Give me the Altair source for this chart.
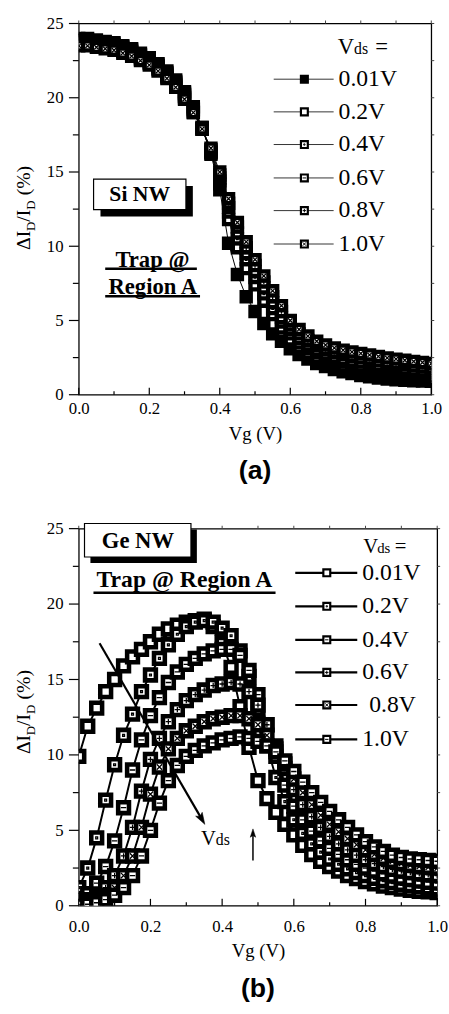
import altair as alt
import pandas as pd

# ---------------- data ----------------
VG = [0.0, 0.025, 0.05, 0.075, 0.1, 0.125, 0.15, 0.175, 0.2, 0.225,
      0.25, 0.275, 0.3, 0.325, 0.35, 0.375, 0.4, 0.425, 0.45, 0.475,
      0.5, 0.525, 0.55, 0.575, 0.6, 0.625, 0.65, 0.675, 0.7, 0.725,
      0.75, 0.775, 0.8, 0.825, 0.85, 0.875, 0.9, 0.925, 0.95, 0.975, 1.0]

SERIES = ["0.01V", "0.2V", "0.4V", "0.6V", "0.8V", "1.0V"]

# (a) Si NW
SI_001 = [24.0, 24.0, 23.9, 23.8, 23.7, 23.5, 23.3, 23.0, 22.7, 22.3,
          21.8, 21.2, 20.4, 19.4, 18.0, 16.2, 13.8, 10.2, 8.1, 6.6,
          5.6, 4.8, 4.1, 3.6, 3.1, 2.7, 2.4, 2.1, 1.9, 1.7,
          1.55, 1.42, 1.3, 1.2, 1.12, 1.05, 1.0, 0.97, 0.94, 0.92, 0.9]
SI_02 = [23.9, 23.9, 23.8, 23.7, 23.6, 23.4, 23.2, 22.9, 22.6, 22.2,
         21.7, 21.1, 20.3, 19.3, 18.0, 16.3, 14.2, 11.8, 9.9, 8.5,
         7.4, 6.3, 5.4, 4.5, 3.7, 3.2, 2.8, 2.5, 2.3, 2.1,
         1.95, 1.82, 1.7, 1.6, 1.5, 1.42, 1.35, 1.28, 1.22, 1.16, 1.1]
SI_04 = [23.8, 23.8, 23.7, 23.6, 23.5, 23.3, 23.1, 22.8, 22.5, 22.1,
         21.6, 21.0, 20.2, 19.2, 17.9, 16.3, 14.4, 12.3, 10.5, 9.1,
         7.9, 6.8, 5.8, 4.9, 4.1, 3.5, 3.1, 2.8, 2.55, 2.35,
         2.2, 2.05, 1.95, 1.85, 1.75, 1.66, 1.58, 1.5, 1.43, 1.36, 1.3]
SI_06 = [23.7, 23.7, 23.6, 23.5, 23.4, 23.2, 23.0, 22.7, 22.4, 22.0,
         21.5, 20.9, 20.1, 19.1, 17.9, 16.4, 14.6, 12.6, 10.9, 9.5,
         8.3, 7.2, 6.2, 5.2, 4.4, 3.8, 3.35, 3.0, 2.75, 2.55,
         2.4, 2.28, 2.2, 2.1, 2.0, 1.9, 1.82, 1.74, 1.66, 1.6, 1.55]
SI_08 = [23.6, 23.6, 23.5, 23.4, 23.3, 23.1, 22.9, 22.6, 22.3, 21.9,
         21.4, 20.8, 20.0, 19.0, 17.9, 16.5, 14.8, 12.9, 11.3, 9.9,
         8.7, 7.6, 6.6, 5.6, 4.7, 4.1, 3.65, 3.3, 3.05, 2.85,
         2.7, 2.58, 2.48, 2.38, 2.28, 2.18, 2.1, 2.02, 1.94, 1.87, 1.8]
SI_10 = [23.5, 23.5, 23.4, 23.3, 23.2, 23.0, 22.8, 22.5, 22.2, 21.8,
         21.3, 20.7, 19.9, 19.0, 17.9, 16.6, 15.0, 13.2, 11.6, 10.3,
         9.1, 8.0, 7.0, 6.0, 5.0, 4.4, 3.95, 3.6, 3.35, 3.15,
         3.0, 2.88, 2.78, 2.68, 2.58, 2.48, 2.4, 2.32, 2.24, 2.17, 2.1]

# (b) Ge NW
GE_001 = [9.9, 11.9, 13.1, 14.2, 15.0, 15.9, 16.5, 17.0, 17.5, 18.0,
          18.35, 18.6, 18.8, 18.9, 19.0, 18.5, 17.4, 15.8, 13.2, 10.5,
          8.3, 7.1, 6.2, 5.4, 4.7, 4.0, 3.4, 2.95, 2.6, 2.3,
          2.0, 1.8, 1.6, 1.45, 1.3, 1.2, 1.1, 1.02, 0.96, 0.92, 0.88]
GE_02 = [1.2, 2.5, 4.5, 7.0, 9.35, 11.3, 12.7, 14.2, 15.3, 16.4,
         17.3, 18.0, 18.5, 18.8, 18.9, 18.8, 18.4, 17.9, 16.9, 15.2,
         13.0, 10.6, 8.5, 6.9, 5.7, 4.8, 4.1, 3.55, 3.1, 2.75,
         2.45, 2.2, 2.0, 1.82, 1.66, 1.53, 1.42, 1.33, 1.25, 1.18, 1.12]
GE_04 = [0.4, 0.8, 1.5, 2.6, 4.3, 6.5, 9.0, 11.0, 12.6, 13.8,
         14.8, 15.5, 16.0, 16.4, 16.7, 16.9, 17.0, 17.0, 16.6, 15.6,
         14.0, 12.0, 9.9, 8.0, 6.6, 5.7, 4.95, 4.3, 3.8, 3.4,
         3.05, 2.75, 2.5, 2.3, 2.12, 1.97, 1.84, 1.73, 1.64, 1.56, 1.5]
GE_06 = [0.2, 0.4, 0.7, 1.2, 2.0, 3.3, 5.2, 7.6, 9.7, 11.1,
         12.2, 13.0, 13.6, 14.0, 14.3, 14.6, 14.7, 14.8, 14.7, 14.2,
         13.3, 12.0, 10.6, 9.1, 7.7, 6.7, 5.9, 5.2, 4.6, 4.1,
         3.7, 3.35, 3.05, 2.8, 2.6, 2.42, 2.3, 2.2, 2.12, 2.05, 2.0]
GE_08 = [0.1, 0.2, 0.4, 0.7, 1.2, 2.0, 3.3, 5.2, 7.4, 9.2,
         10.4, 11.1, 11.6, 11.9, 12.2, 12.4, 12.5, 12.6, 12.6, 12.4,
         12.0, 11.3, 10.4, 9.4, 8.4, 7.5, 6.7, 6.0, 5.4, 4.9,
         4.45, 4.05, 3.7, 3.4, 3.15, 2.95, 2.8, 2.68, 2.6, 2.55, 2.5]
GE_10 = [0.05, 0.1, 0.2, 0.4, 0.7, 1.2, 2.0, 3.3, 5.0, 6.8,
         8.3, 9.3, 9.9, 10.3, 10.6, 10.8, 11.0, 11.1, 11.2, 11.1,
         10.9, 10.6, 10.2, 9.6, 8.9, 8.2, 7.5, 6.85, 6.25, 5.7,
         5.2, 4.7, 4.25, 3.9, 3.6, 3.35, 3.2, 3.1, 3.05, 3.0, 2.95]

X_TICKS_MAJOR = [0.0, 0.2, 0.4, 0.6, 0.8, 1.0]
X_TICKS_MINOR = [0.1, 0.3, 0.5, 0.7, 0.9]
Y_TICKS_MAJOR = [0, 5, 10, 15, 20, 25]
Y_TICKS_MINOR = [2.5, 7.5, 12.5, 17.5, 22.5]

# ---------------- styles ----------------
SERIF = "Liberation Serif"
SANS = "Liberation Sans"
DOT = "M -0.35 -0.35 L 0.35 -0.35 L 0.35 0.35 L -0.35 0.35 Z"
HLINE = "M -1 0 L 1 0"
PLUS = "M -1 0 L 1 0 M 0 -1 L 0 1"
XMARK = "M -1 -1 L 1 1 M -1 1 L 1 -1"
ARROW = "M 0 -1 L 0.55 0.7 L 0 0.35 L -0.55 0.7 Z"

ONE = pd.DataFrame({"k": [0]})


def build_panel(cfg):
    xs = alt.Scale(domain=[0, 1], nice=False, zero=False)
    ys = alt.Scale(domain=[0, 25], nice=False, zero=False)
    layers = []

    x_axis = alt.Axis(values=X_TICKS_MAJOR, format=".1f", ticks=False, tickSize=0,
                      domain=False, grid=False, labelFlush=False, labelOverlap=False,
                      labelFont=SERIF, labelFontSize=17, labelColor="black",
                      labelPadding=cfg["xlabpad"], title="Vg (V)", titleFont=SERIF,
                      titleFontSize=19, titleFontWeight="normal", titleColor="black",
                      titlePadding=cfg["xtitlepad"])
    y_axis = alt.Axis(values=Y_TICKS_MAJOR, format="d", ticks=False, tickSize=0,
                      domain=False, grid=False, labelFlush=False, labelOverlap=False,
                      labelFont=SERIF, labelFontSize=17, labelColor="black",
                      labelPadding=16, title=None)

    def xf(field):
        return alt.X(field, scale=xs, axis=x_axis)

    def yf(field):
        return alt.Y(field, scale=ys, axis=y_axis)

    def xdat(v):
        return alt.X(datum=v, scale=xs, axis=x_axis)

    def ydat(v):
        return alt.Y(datum=v, scale=ys, axis=y_axis)

    # data series: line + squares + inner pattern
    for i, (name, vals) in enumerate(zip(SERIES, cfg["series"])):
        sdf = pd.DataFrame({"Vg": VG, "dI": vals})
        enc = dict(x=xf("Vg:Q"), y=yf("dI:Q"))
        layers.append(alt.Chart(sdf).mark_line(color="black", strokeWidth=cfg["lw"], clip=True).encode(**enc))
        layers.append(alt.Chart(sdf).mark_point(shape="square", filled=True, fill=cfg["fills"][i],
                                                stroke="black", strokeWidth=cfg["sw"], size=cfg["size"],
                                                opacity=1, clip=True).encode(**enc))
        if cfg["patterns"][i]:
            layers.append(alt.Chart(sdf).mark_point(shape=cfg["patterns"][i], filled=False, stroke="black",
                                                    strokeWidth=1.3, size=cfg["psize"], opacity=1,
                                                    clip=True).encode(**enc))

    # ticks
    tx_maj = pd.DataFrame({"t": X_TICKS_MAJOR})
    tx_min = pd.DataFrame({"t": X_TICKS_MINOR})
    tx_all = pd.DataFrame({"t": X_TICKS_MAJOR + X_TICKS_MINOR})
    ty_maj = pd.DataFrame({"t": Y_TICKS_MAJOR})
    ty_min = pd.DataFrame({"t": Y_TICKS_MINOR})
    ty_all = pd.DataFrame({"t": Y_TICKS_MAJOR + Y_TICKS_MINOR})
    layers.append(alt.Chart(tx_maj).mark_tick(orient="vertical", size=7, yOffset=-3.5, thickness=1.2, color="black", opacity=1).encode(x=xf("t:Q"), y=ydat(0)))
    layers.append(alt.Chart(tx_min).mark_tick(orient="vertical", size=3.5, yOffset=-1.75, thickness=1.2, color="black", opacity=1).encode(x=xf("t:Q"), y=ydat(0)))
    layers.append(alt.Chart(tx_all).mark_tick(orient="vertical", size=3, yOffset=-1.5, thickness=1, color="#444", opacity=1).encode(x=xf("t:Q"), y=ydat(25)))
    layers.append(alt.Chart(ty_maj).mark_tick(orient="horizontal", size=10, xOffset=-5, thickness=1.2, color="black", opacity=1).encode(y=yf("t:Q"), x=xdat(0)))
    layers.append(alt.Chart(ty_min).mark_tick(orient="horizontal", size=6, xOffset=-3, thickness=1.2, color="black", opacity=1).encode(y=yf("t:Q"), x=xdat(0)))
    layers.append(alt.Chart(ty_all).mark_tick(orient="horizontal", size=3, xOffset=1.5, thickness=1, color="#444", opacity=1).encode(y=yf("t:Q"), x=xdat(1)))

    # legend
    lg = cfg["legend"]
    for i, name in enumerate(SERIES):
        ly = lg["rows"][i]
        layers.append(alt.Chart(ONE).mark_rule(color=lg["lcolor"], strokeWidth=lg["lw"]).encode(
            x=xdat(lg["x0"]), x2=alt.X2(datum=lg["x1"]), y=ydat(ly)))
        layers.append(alt.Chart(ONE).mark_point(shape="square", filled=True, fill=cfg["fills"][i], stroke="black",
                                                strokeWidth=lg["sw"], size=lg["size"], opacity=1).encode(
            x=xdat(lg["xm"]), y=ydat(ly)))
        if cfg["patterns"][i]:
            layers.append(alt.Chart(ONE).mark_point(shape=cfg["patterns"][i], filled=False, stroke="black",
                                                    strokeWidth=1.0, size=lg["psize"], opacity=1).encode(
                x=xdat(lg["xm"]), y=ydat(ly)))
        layers.append(alt.Chart(ONE).mark_text(text=name, align="left", baseline="middle", font=SERIF,
                                               fontSize=24, color="black", dx=lg["dx"][i]).encode(
            x=xdat(lg["xt"]), y=ydat(ly)))
    hx, hy = lg["head"]
    layers.append(alt.Chart(ONE).mark_text(text="V", align="left", baseline="alphabetic", font=SERIF,
                                           fontSize=lg["vfs"], color="black").encode(x=xdat(hx), y=ydat(hy)))
    layers.append(alt.Chart(ONE).mark_text(text="ds", align="left", baseline="alphabetic", font=SERIF,
                                           fontSize=lg["dfs"], color="black", dx=lg["ddx"]).encode(x=xdat(hx), y=ydat(hy)))
    layers.append(alt.Chart(ONE).mark_text(text="=", align="left", baseline="alphabetic", font=SERIF,
                                           fontSize=lg["vfs"], color="black", dx=lg["edx"]).encode(x=xdat(hx), y=ydat(hy)))

    # label box with shadow
    bx = cfg["box"]
    layers.append(alt.Chart(ONE).mark_rect(color="black").encode(
        x=xdat(bx["x0"] + bx["sx"]), x2=alt.X2(datum=bx["x1"] + bx["sx"]),
        y=ydat(bx["y0"] + bx["sy"]), y2=alt.Y2(datum=bx["y1"] + bx["sy"])))
    layers.append(alt.Chart(ONE).mark_rect(fill="white", stroke="black", strokeWidth=1.2).encode(
        x=xdat(bx["x0"]), x2=alt.X2(datum=bx["x1"]), y=ydat(bx["y0"]), y2=alt.Y2(datum=bx["y1"])))
    layers.append(alt.Chart(ONE).mark_text(text=bx["text"], align="center", baseline="middle", font=SERIF,
                                           fontWeight="bold", fontSize=bx["fs"], color="black").encode(
        x=xdat(bx["tx"]), y=ydat(bx["ty"])))

    # underlined notes
    for t in cfg["notes"]:
        layers.append(alt.Chart(ONE).mark_text(text=t["text"], align="center", baseline="middle", font=SERIF,
                                               fontWeight="bold", fontSize=t["fs"], color="black").encode(
            x=xdat(t["x"]), y=ydat(t["y"])))
        layers.append(alt.Chart(ONE).mark_rule(color="black", strokeWidth=2.5).encode(
            x=xdat(t["u0"]), x2=alt.X2(datum=t["u1"]), y=ydat(t["uy"])))

    # arrows and extra labels
    for a in cfg.get("arrows", []):
        layers.append(alt.Chart(ONE).mark_rule(color="black", strokeWidth=a["w"]).encode(
            x=xdat(a["x0"]), y=ydat(a["y0"]), x2=alt.X2(datum=a["x1"]), y2=alt.Y2(datum=a["y1"])))
        layers.append(alt.Chart(ONE).mark_point(shape=ARROW, filled=True, fill="black", stroke="black",
                                                strokeWidth=0.5, size=a["hs"], angle=a["ang"], opacity=1).encode(
            x=xdat(a["x1"]), y=ydat(a["y1"])))
    for t in cfg.get("texts", []):
        layers.append(alt.Chart(ONE).mark_text(text=t["text"], align="left", baseline="alphabetic", font=SERIF,
                                               fontSize=t["fs"], color="black", dx=t["dx"]).encode(
            x=xdat(t["x"]), y=ydat(t["y"])))

    # rotated y title with subscripts
    y0 = cfg["ytitle_y"]
    pieces = [("\u0394I", 20, -50, 0), ("D", 13, -44, 19.2), ("/I", 20, -50, 28.6),
              ("D", 13, -44, 40.8), ("(%)", 20, -50, 55.5)]
    for txt, fs, xp, off in pieces:
        layers.append(alt.Chart(ONE).mark_text(text=txt, angle=270, align="left", baseline="alphabetic",
                                               font=SERIF, fontSize=fs, color="black").encode(
            x=alt.value(xp), y=alt.value(y0 - off)))

    return alt.layer(*layers).properties(
        width=cfg["w"], height=cfg["h"],
        title=alt.TitleParams(cfg["title"], orient="bottom", anchor="middle", frame="group", font=SANS,
                              fontSize=27, fontWeight="bold", color="black", offset=cfg["toff"]))


top_cfg = dict(
    w=358, h=377, title="(a)", toff=16, xlabpad=6, xtitlepad=8,
    series=[SI_001, SI_02, SI_04, SI_06, SI_08, SI_10],
    fills=["black", "white", "white", "white", "white", "white"],
    patterns=[None, None, DOT, HLINE, PLUS, XMARK],
    size=85, sw=4.4, lw=1.0, psize=20,
    legend=dict(rows=[21.25, 19.05, 16.85, 14.6, 12.4, 10.15], x0=0.553, x1=0.723, xm=0.64, xt=0.737,
                lw=1.0, lcolor="#333", sw=2.2, size=49, psize=12, dx=[0, 0, 0, 0, 0, 0],
                head=(0.735, 22.95), vfs=23, dfs=16, ddx=16.5, edx=38),
    box=dict(x0=0.042, x1=0.304, y0=12.47, y1=14.52, sx=0.0196, sy=-0.46, text="Si NW", fs=22,
             tx=0.173, ty=13.5),
    notes=[dict(text="Trap @", fs=23, x=0.209, y=9.08, u0=0.075, u1=0.335, uy=8.49),
           dict(text="Region A", fs=23, x=0.21, y=7.23, u0=0.075, u1=0.344, uy=6.63)],
    ytitle_y=230,
)

bottom_cfg = dict(
    w=364, h=383, title="(b)", toff=16, xlabpad=13, xtitlepad=8,
    series=[GE_001, GE_02, GE_04, GE_06, GE_08, GE_10],
    fills=["white"] * 6,
    patterns=[None, DOT, HLINE, PLUS, XMARK, HLINE],
    size=121, sw=4.6, lw=2.0, psize=30,
    legend=dict(rows=[22.07, 19.85, 17.63, 15.47, 13.31, 11.03], x0=0.604, x1=0.777, xm=0.692, xt=0.791,
                lw=2.2, lcolor="black", sw=2.2, size=49, psize=12, dx=[0, 0, 0, 0, 7, 0],
                head=(0.794, 23.38), vfs=21, dfs=15, ddx=14, edx=32),
    box=dict(x0=0.016, x1=0.313, y0=23.12, y1=25.34, sx=0.0165, sy=-0.39, text="Ge NW", fs=23,
             tx=0.165, ty=24.17),
    notes=[dict(text="Trap @ Region A", fs=24, x=0.295, y=21.6, u0=0.041, u1=0.549, uy=20.75)],
    arrows=[dict(x0=0.058, y0=17.4, x1=0.342, y1=5.79, w=2.2, hs=196, ang=149.7),
            dict(x0=0.486, y0=3.0, x1=0.486, y1=4.77, w=1.5, hs=100, ang=0)],
    texts=[dict(text="V", fs=21, x=0.341, y=4.04, dx=0),
           dict(text="ds", fs=16, x=0.341, y=4.04, dx=15)],
    ytitle_y=229,
)

top = build_panel(top_cfg)
bottom = build_panel(bottom_cfg)

chart = alt.vconcat(top, bottom, spacing=34).properties(
    padding={"left": 13, "top": 6, "right": 0, "bottom": 0},
    background="white",
).configure_view(stroke="black", strokeWidth=1.3)

chart.save("out.html", embed_options={"renderer": "svg", "actions": False})
